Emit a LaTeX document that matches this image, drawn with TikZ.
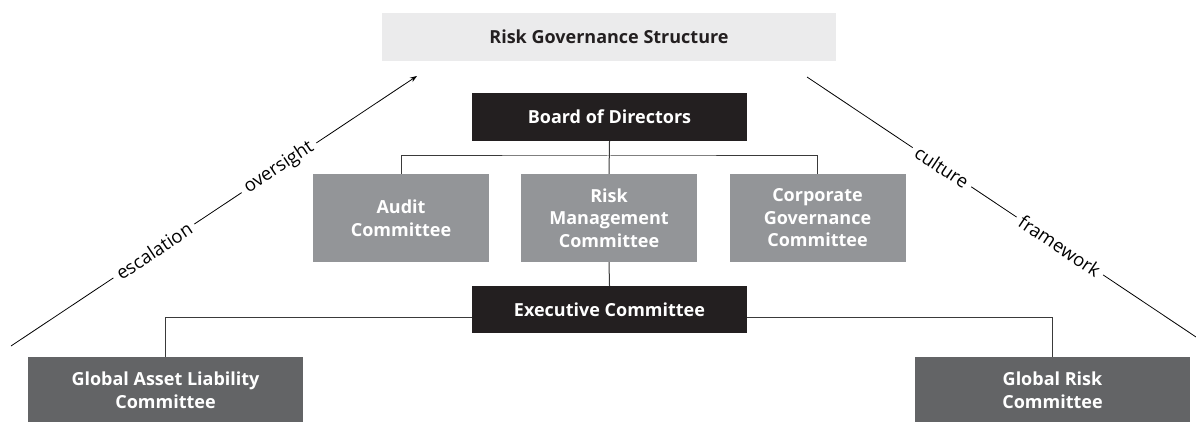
\documentclass[tikz,border=0pt]{standalone}
\usepackage{fontspec}
\setmainfont{Open Sans}
\usetikzlibrary{calc,arrows.meta}
\definecolor{titlegray}{HTML}{EBEBEC}
\definecolor{darkbox}{HTML}{231F20}
\definecolor{midgray}{HTML}{939598}
\definecolor{lowgray}{HTML}{636466}
\definecolor{linegray}{HTML}{3A3A3A}
\begin{document}
\begin{tikzpicture}[x=1pt,y=-1pt,
  box/.style={rectangle,inner sep=0pt,align=center,font=\fontsize{18}{22.5}\selectfont\bfseries},
  titlebox/.style={box,fill=titlegray,text=darkbox,minimum width=454pt,minimum height=48pt},
  blackbox/.style={box,fill=darkbox,text=white,minimum width=275pt,minimum height=48pt},
  midbox/.style={box,fill=midgray,text=white,minimum width=176pt,minimum height=88pt},
  lowbox/.style={box,fill=lowgray,text=white,minimum width=275pt,minimum height=66pt},
  conn/.style={draw=linegray,line width=1pt},
  diag/.style={draw=black,line width=0.8pt},
  lab/.style={fill=white,sloped,inner sep=5pt,text=black,font=\fontsize{18.5}{22}\selectfont}
]
\useasboundingbox (0,0) rectangle (1196,422);
\node[titlebox] (title) at (609,37) {Risk Governance Structure};
\node[blackbox] (board) at (609.5,117) {Board of Directors};
\node[midbox] (audit) at (401,218) {Audit\\Committee};
\node[midbox] (rmc) at (609,218) {Risk\\Management\\Committee};
\node[midbox] (cgc) at (817.5,218) {Corporate\\Governance\\Committee};
\node[blackbox,minimum height=47pt] (exec) at (609.5,309.5) {Executive Committee};
\node[lowbox] (galc) at (165.5,390) {Global Asset Liability\\Committee};
\node[lowbox] (grc) at (1052.5,390) {Global Risk\\Committee};
\coordinate (bar) at (609,156);
\coordinate (exl) at ($(exec.west)+(0,7.5)$);
\coordinate (exr) at ($(exec.east)+(0,7.5)$);
\draw[conn] (audit.north) |- (bar) -| (cgc.north);
\draw[conn] (board.south) -- (rmc.north);
\draw[conn] (rmc.south) -- (exec.north);
\draw[conn] (galc.north) |- (exl);
\draw[conn] (exr) -| (grc.north);
\coordinate (ls) at (11,346);
\coordinate (le) at (417,76);
\coordinate (rs) at (807,77);
\coordinate (re) at (1196,337);
\draw[diag,-{Stealth[length=7pt,width=5pt]}] (ls) -- node[lab,pos=0.352] (esc) {escalation} node[lab,pos=0.66] (ovs) {oversight} (le);
\draw[diag] (rs) -- node[lab,pos=0.347] (cul) {culture} node[lab,pos=0.65] (fra) {framework} (re);
\end{tikzpicture}
\end{document}
